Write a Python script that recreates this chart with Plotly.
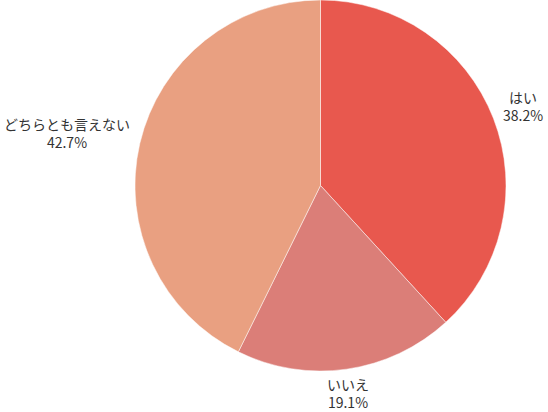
import math
import plotly.graph_objects as go

labels = ["はい", "いいえ", "どちらとも言えない"]
values = [38.2, 19.1, 42.7]
colors = ["#E8584E", "#DB7E78", "#E9A081"]

W, H = 548, 412
# pie box in pixels
px0, px1, py0, py1 = 135, 506, 0, 371
cx, cy = (px0 + px1) / 2, (py0 + py1) / 2
r = (px1 - px0) / 2

fig = go.Figure(go.Pie(
    labels=labels,
    values=values,
    sort=False,
    direction="clockwise",
    rotation=0,
    marker=dict(colors=colors, line=dict(color="rgba(255,255,255,0.6)", width=0.8)),
    textinfo="none",
    hoverinfo="label+percent",
    showlegend=False,
    domain=dict(x=[px0 / W, px1 / W], y=[1 - py1 / H, 1 - py0 / H]),
))

total = sum(values)
acc = 0
annotations = []
gap = 8
for lab, v in zip(labels, values):
    mid = (acc + v / 2) / total * 2 * math.pi
    acc += v
    s, c = math.sin(mid), math.cos(mid)
    x = cx + (r + gap) * s
    y = cy - (r + gap) * c
    xanchor = "left" if s > 0.5 else ("right" if s < -0.5 else "center")
    if c < -0.5:
        yanchor, yshift = "top", 5
    elif c > 0.5:
        yanchor, yshift = "bottom", 0
    else:
        yanchor, yshift = "middle", 9
    pct = v / total * 100
    annotations.append(dict(
        x=x / W, y=1 - y / H, xref="paper", yref="paper",
        xanchor=xanchor, yanchor=yanchor, yshift=yshift,
        text=f"{lab}<br>{pct:.1f}%", showarrow=False, align="center",
        font=dict(size=14, color="#333333", family="Noto Sans CJK JP"),
    ))

fig.update_layout(
    width=W, height=H,
    margin=dict(l=0, r=0, t=0, b=0),
    paper_bgcolor="white",
    plot_bgcolor="white",
    annotations=annotations,
    font=dict(family="Noto Sans CJK JP"),
)

fig.write_html(
    "out.html",
    config={"displayModeBar": False},
    post_script="document.body.style.margin='0';document.body.style.overflow='hidden';",
)
